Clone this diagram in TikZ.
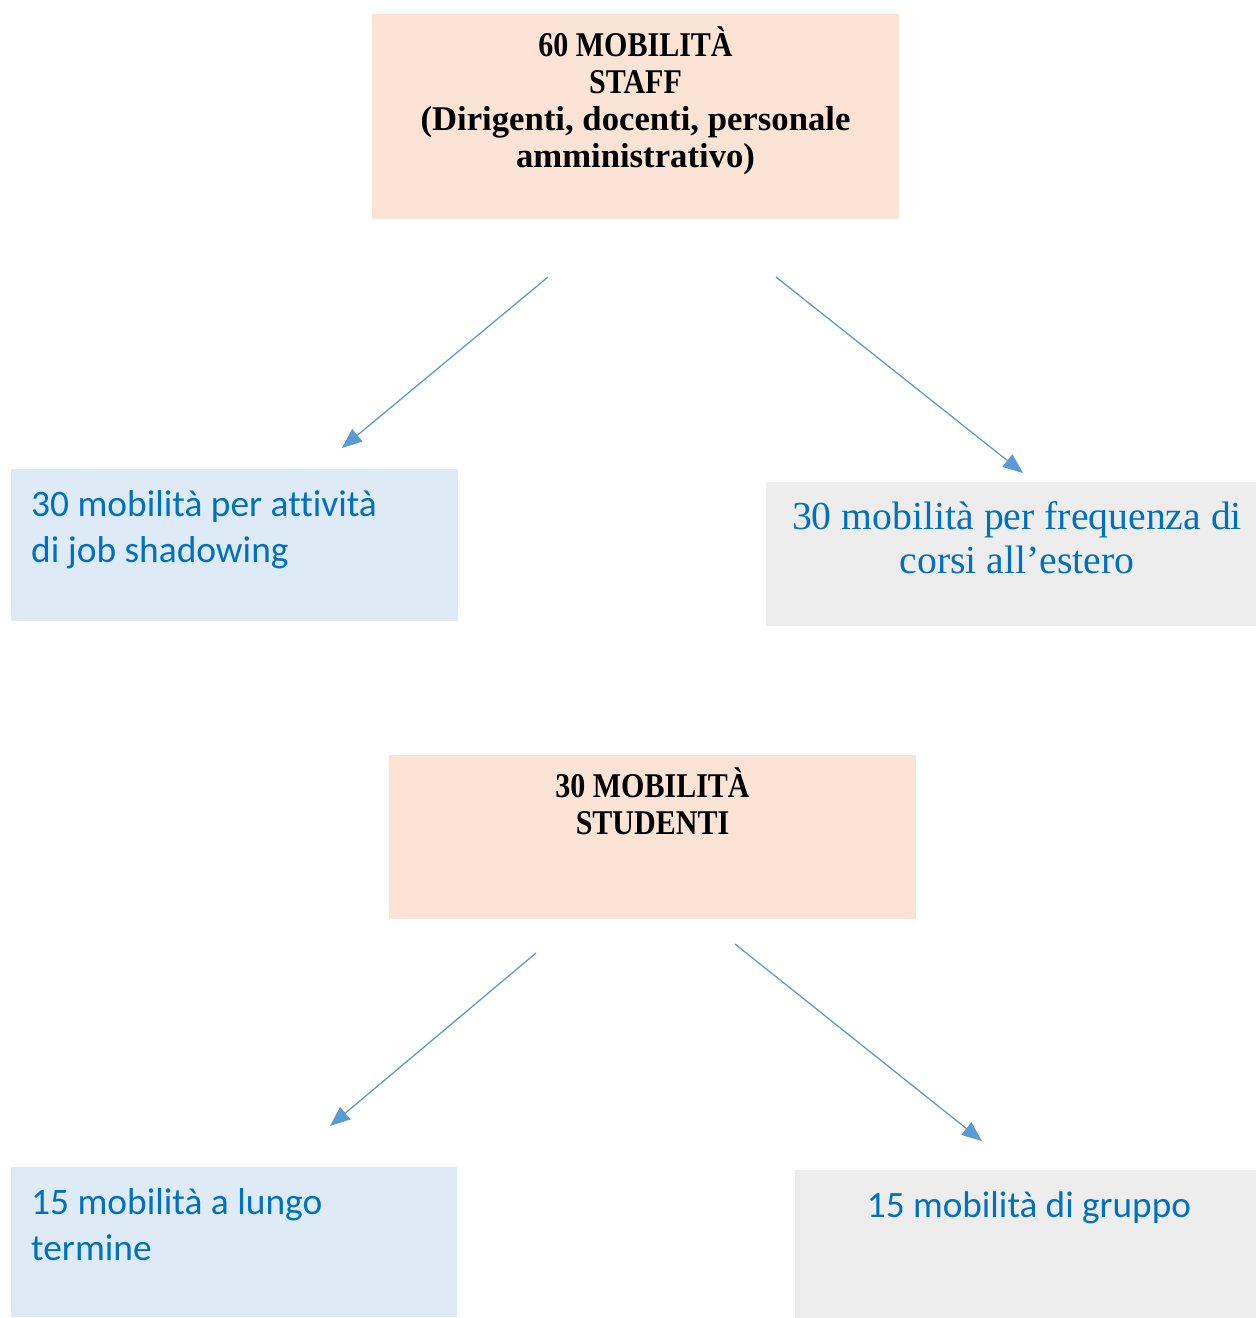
\documentclass[tikz,border=0pt]{standalone}
\usepackage{fontspec}
\setmainfont{Liberation Serif}
\newfontfamily\calibri[Ligatures=NoCommon]{Carlito}
\usetikzlibrary{arrows.meta}
\definecolor{peach}{HTML}{FBE4D5}
\definecolor{lightblue}{HTML}{DEEAF6}
\definecolor{lightgray}{HTML}{EDEDED}
\definecolor{textblue}{HTML}{0070C0}
\definecolor{arrowblue}{HTML}{5B9BD5}
\newcommand{\capsq}[1]{\scalebox{0.865}[1]{#1}}
\tikzset{
  box/.style={draw=none, inner sep=0pt, outer sep=0pt},
  titletext/.style={anchor=base, inner sep=0pt, font=\bfseries\fontsize{34.7}{37}\selectfont, text=black},
  calitext/.style={anchor=base west, inner sep=0pt, font=\calibri\fontsize{37.4}{46}\selectfont, text=textblue},
  caliC/.style={anchor=base, inner sep=0pt, font=\calibri\fontsize{37.2}{46}\selectfont, text=textblue},
  sertext/.style={anchor=base, inner sep=0pt, font=\fontsize{39.7}{44}\selectfont, text=textblue},
  arr/.style={draw=arrowblue, line width=1.3pt, -{Triangle[length=20pt,width=16pt]}}
}
\begin{document}
\begin{tikzpicture}[x=1pt,y=-1pt]
\useasboundingbox (0,0) rectangle (1256,1318);
% boxes
\fill[peach] (372,14) rectangle (899,219);
\node[box, minimum width=527pt, minimum height=205pt] (staff) at (635.5,116.5) {};
\fill[lightblue] (11,469) rectangle (458,621);
\node[box, minimum width=447pt, minimum height=152pt] (job) at (234.5,545) {};
\fill[lightgray] (766,482) rectangle (1256,626);
\node[box, minimum width=490pt, minimum height=144pt] (corsi) at (1011,554) {};
\fill[peach] (389,755) rectangle (916,919);
\node[box, minimum width=527pt, minimum height=164pt] (stud) at (652.5,837) {};
\fill[lightblue] (11,1167) rectangle (457,1317);
\node[box, minimum width=446pt, minimum height=150pt] (lungo) at (234,1242) {};
\fill[lightgray] (795,1170) rectangle (1256,1318);
\node[box, minimum width=461pt, minimum height=148pt] (gruppo) at (1025.5,1244) {};
% texts
\node[titletext] (s1) at (635.5,56.5) {\capsq{60 MOBILITÀ}};
\node[titletext] (s2) at (635.5,93.5) {\capsq{STAFF}};
\node[titletext] (s3) at (635.5,130.5) {(Dirigenti, docenti, personale};
\node[titletext] (s4) at (635.5,167.5) {amministrativo)};
\node[calitext] (j1) at (31,516) {30 mobilità per attività};
\node[calitext] (j2) at (31,562) {di job shadowing};
\node[sertext] (c1) at (1017,529) {30 mobilità per frequenza di};
\node[sertext] (c2) at (1017,573) {corsi all’estero};
\node[titletext] (t1) at (652.5,797) {\capsq{30 MOBILITÀ}};
\node[titletext] (t2) at (652.5,834) {\capsq{STUDENTI}};
\node[calitext] (l1) at (31,1214) {15 mobilità a lungo};
\node[calitext] (l2) at (31,1260) {termine};
\node[caliC] (g1) at (1029,1217) {15 mobilità di gruppo};
% arrows
\coordinate (a1s) at (548,277);
\coordinate (a1e) at (342,448);
\coordinate (a2s) at (776,277);
\coordinate (a2e) at (1023,473);
\coordinate (a3s) at (536,953);
\coordinate (a3e) at (330,1126);
\coordinate (a4s) at (735,944);
\coordinate (a4e) at (982,1141);
\draw[arr] (a1s) -- (a1e);
\draw[arr] (a2s) -- (a2e);
\draw[arr] (a3s) -- (a3e);
\draw[arr] (a4s) -- (a4e);
\end{tikzpicture}
\end{document}
